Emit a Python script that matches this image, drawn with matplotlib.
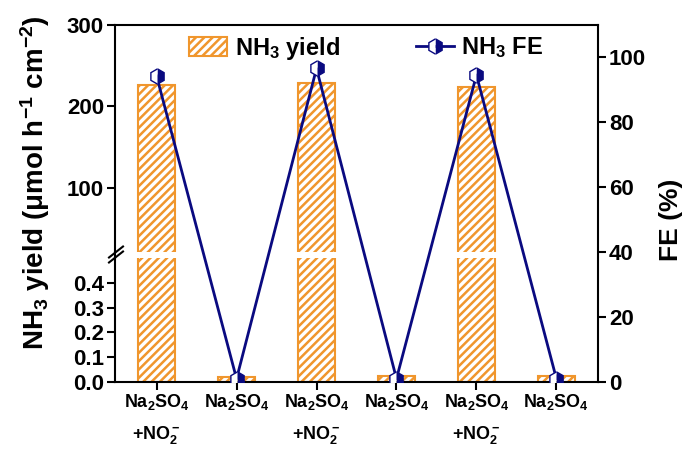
import matplotlib
matplotlib.use("Agg")
import matplotlib.pyplot as plt
from matplotlib.lines import Line2D

plt.rcParams['font.family'] = ['Liberation Sans', 'DejaVu Sans']
plt.rcParams['font.weight'] = 'bold'
plt.rcParams['mathtext.fontset'] = 'custom'
plt.rcParams['mathtext.rm'] = 'Liberation Sans:bold'
plt.rcParams['mathtext.it'] = 'Liberation Sans:bold'
plt.rcParams['mathtext.bf'] = 'Liberation Sans:bold'
plt.rcParams['mathtext.default'] = 'rm'
plt.rcParams['hatch.linewidth'] = 1.8
plt.rcParams['axes.linewidth'] = 1.5

categories = ["Na$_2$SO$_4$\n+NO$_2^-$", "Na$_2$SO$_4$", "Na$_2$SO$_4$\n+NO$_2^-$",
              "Na$_2$SO$_4$", "Na$_2$SO$_4$\n+NO$_2^-$", "Na$_2$SO$_4$"]
yield_vals = [226, 0.021, 229, 0.024, 224, 0.024]
fe_vals = [94.3, 1.0, 96.6, 1.0, 94.6, 1.0]

orange = '#F0962D'
navy = '#0A0A80'

W, H = 691, 450
fig = plt.figure(figsize=(W / 100, H / 100), dpi=100)

def fx(px):
    return px / W

def fy(py):
    return 1 - py / H

L, R, T, B = 115, 598, 25, 382
brk_top, brk_bot = 252, 258

ax_up = fig.add_axes([fx(L), fy(brk_top), fx(R) - fx(L), fy(T) - fy(brk_top)])
ax_lo = fig.add_axes([fx(L), fy(B), fx(R) - fx(L), fy(brk_bot) - fy(B)])
ax_fe = fig.add_axes([fx(L), fy(B), fx(R) - fx(L), fy(T) - fy(B)])

x = list(range(len(categories)))
xlim = (-0.52, 5.52)
bw = 0.46

for ax in (ax_up, ax_lo):
    bars = ax.bar(x, yield_vals, width=bw, facecolor='white', edgecolor=orange,
                  hatch='////', linewidth=1.5, label='NH$_3$ yield')
    ax.set_xlim(*xlim)
    ax.spines['right'].set_visible(False)
    ax.tick_params(axis='y', direction='out', length=6, width=1.5, labelsize=16, pad=2)

ax_up.set_ylim(21, 300)
ax_up.set_yticks([100, 200, 300])
ax_up.spines['bottom'].set_visible(False)
ax_up.tick_params(axis='x', bottom=False, labelbottom=False)

ax_lo.set_ylim(0, 0.5)
ax_lo.set_yticks([0.0, 0.1, 0.2, 0.3, 0.4])
ax_lo.set_yticklabels(['0.0', '0.1', '0.2', '0.3', '0.4'])
ax_lo.spines['top'].set_visible(False)
ax_lo.set_xticks(x)
ax_lo.set_xticklabels(categories, fontsize=13, linespacing=1.85, va='top')
ax_lo.tick_params(axis='x', direction='out', length=6, width=1.5, pad=1)

ax_fe.patch.set_visible(False)
ax_fe.set_xlim(*xlim)
ax_fe.set_ylim(0, 110)
ax_fe.plot(x, fe_vals, color=navy, linewidth=2, marker='h', markersize=11,
           fillstyle='right', markerfacecolor=navy, markerfacecoloralt='white',
           markeredgecolor=navy, markeredgewidth=1.0, label='NH$_3$ FE', zorder=5)
for s in ('left', 'top', 'bottom'):
    ax_fe.spines[s].set_visible(False)
ax_fe.tick_params(axis='x', bottom=False, labelbottom=False)
ax_fe.yaxis.tick_right()
ax_fe.yaxis.set_label_position('right')
ax_fe.set_yticks([0, 20, 40, 60, 80, 100])
ax_fe.tick_params(axis='y', direction='out', length=6, width=1.5, labelsize=16, pad=2)
ax_fe.set_ylabel('FE (%)', fontsize=19, fontweight='bold', labelpad=9)
ax_fe.yaxis.label.set_y(0.455)

fig.text(fx(35), fy(183), 'NH$_3$ yield (μmol h$^{-1}$ cm$^{-2}$)', rotation=90,
         fontsize=20, fontweight='bold', ha='center', va='center')

# spine continuation + break marks
fig.add_artist(Line2D([fx(L), fx(L)], [fy(brk_top), fy(brk_bot)], color='black', lw=1.5))
for dy in (-2.5, 2.5):
    fig.add_artist(Line2D([fx(109), fx(123)], [fy(260 + dy), fy(249 + dy)], color='black', lw=1.5))

h1, l1 = ax_up.get_legend_handles_labels()
leg1 = fig.legend(h1, l1, loc='center left', bbox_to_anchor=(fx(189), fy(48)),
                  frameon=False, fontsize=17, handlelength=1.6, handleheight=0.85,
                  handletextpad=0.35, borderpad=0, borderaxespad=0)
h2, l2 = ax_fe.get_legend_handles_labels()
leg2 = fig.legend(h2, l2, loc='center left', bbox_to_anchor=(fx(416), fy(48)),
                  frameon=False, fontsize=17, handlelength=1.6,
                  handletextpad=0.3, borderpad=0, borderaxespad=0)

fig.savefig('out.png', dpi=100)
